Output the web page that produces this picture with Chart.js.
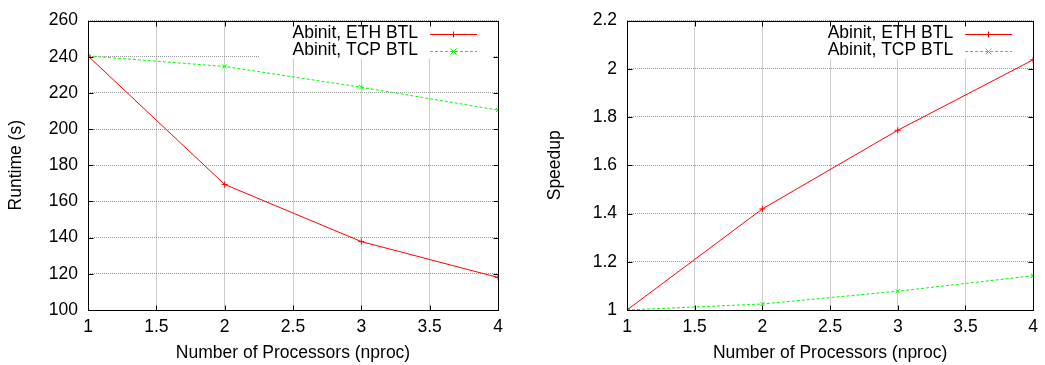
<!DOCTYPE html>
<html>
<head>
<meta charset="utf-8">
<script src="https://cdn.jsdelivr.net/npm/chart.js@4/dist/chart.umd.min.js"></script>
<style>
  html, body { margin: 0; padding: 0; background: #fff; }
  #wrap { position: relative; width: 1045px; height: 365px; }
  .box { position: absolute; top: 0; height: 365px; }
  #b1 { left: 0; width: 520px; }
  #b2 { left: 520px; width: 525px; }
</style>
</head>
<body>
<div id="wrap">
  <div class="box" id="b1"><canvas id="c1" width="520" height="365"></canvas></div>
  <div class="box" id="b2"><canvas id="c2" width="525" height="365"></canvas></div>
</div>
<script>
// ---- data ----
const nproc = [1, 2, 3, 4];
const runtimeETH = [240.4, 169.4, 137.8, 118.0];
const runtimeTCP = [240.4, 234.6, 223.1, 210.5];
const speedupETH = [1.0, 1.419, 1.745, 2.037];
const speedupTCP = [1.0, 1.025, 1.078, 1.142];
const seriesLabels = ['Abinit, ETH BTL', 'Abinit, TCP BTL'];
const seriesColors = ['#ff0000', '#00ff00'];
const xTitle = 'Number of Processors (nproc)';
const yTitleLeft = 'Runtime (s)';
const yTitleRight = 'Speedup';

const FONT = 'Liberation Sans, Arial, sans-serif';
const FS = 17.5;

function fmt(v) { return String(+(+v).toFixed(3)); }

const framePlugin = {
  id: 'gnuFrame',
  afterDatasetsDraw(chart) {
    const ctx = chart.ctx;
    const a = chart.chartArea;
    const L = Math.round(a.left) + 0.5, R = Math.round(a.right) + 0.5;
    const T = Math.round(a.top) + 0.5, B = Math.round(a.bottom) + 0.5;
    ctx.save();
    // legend box
    ctx.fillStyle = '#ffffff';
    ctx.fillRect(a.right - 238, a.top + 1, 234, 37);
    // legend entries
    ctx.font = FS + 'px ' + FONT;
    ctx.textAlign = 'right';
    ctx.textBaseline = 'middle';
    chart.data.datasets.forEach((ds, i) => {
      const y = a.top + 13 + i * 17;
      const col = seriesColors[i];
      ctx.fillStyle = '#000000';
      ctx.fillText(ds.label, a.right - 80, y);
      ctx.strokeStyle = col;
      ctx.lineWidth = 1;
      ctx.setLineDash(i === 1 ? [3, 2] : []);
      ctx.beginPath();
      ctx.moveTo(a.right - 68, Math.round(y) + 0.5);
      ctx.lineTo(a.right - 21, Math.round(y) + 0.5);
      ctx.stroke();
      ctx.setLineDash([]);
      const mx = Math.round(a.right - 45) + 0.5, my = Math.round(y) + 0.5, r = 3;
      ctx.strokeStyle = col;
      ctx.beginPath();
      if (i === 0) {
        ctx.moveTo(mx - r, my); ctx.lineTo(mx + r, my);
        ctx.moveTo(mx, my - r); ctx.lineTo(mx, my + r);
      } else {
        ctx.moveTo(mx - r, my - r); ctx.lineTo(mx + r, my + r);
        ctx.moveTo(mx - r, my + r); ctx.lineTo(mx + r, my - r);
      }
      ctx.stroke();
    });
    // frame
    ctx.strokeStyle = '#000000';
    ctx.lineWidth = 1;
    ctx.strokeRect(L, T, R - L, B - T);
    // inward ticks on all four sides
    const xs = chart.scales.x, ys = chart.scales.y;
    const tl = 5;
    ctx.beginPath();
    xs.ticks.forEach(t => {
      const px = Math.round(xs.getPixelForValue(t.value)) + 0.5;
      ctx.moveTo(px, B); ctx.lineTo(px, B - tl);
      ctx.moveTo(px, T); ctx.lineTo(px, T + tl);
    });
    ys.ticks.forEach(t => {
      const py = Math.round(ys.getPixelForValue(t.value)) + 0.5;
      ctx.moveTo(L, py); ctx.lineTo(L + tl, py);
      ctx.moveTo(R, py); ctx.lineTo(R - tl, py);
    });
    ctx.stroke();
    ctx.restore();
  }
};

function makeChart(id, ethVals, tcpVals, yMin, yMax, yStep, yTitle, yWidth, yTitlePad, padRight) {
  const pts = vals => nproc.map((x, i) => ({ x: x, y: vals[i] }));
  return new Chart(document.getElementById(id), {
    type: 'line',
    data: {
      datasets: [
        {
          label: seriesLabels[0], data: pts(ethVals),
          borderColor: seriesColors[0], backgroundColor: seriesColors[0], borderWidth: 1,
          pointStyle: 'cross', pointRadius: 3, pointBorderWidth: 1,
          pointBorderColor: seriesColors[0], tension: 0, fill: false
        },
        {
          label: seriesLabels[1], data: pts(tcpVals),
          borderColor: seriesColors[1], backgroundColor: seriesColors[1], borderWidth: 1,
          borderDash: [3, 2],
          pointStyle: 'crossRot', pointRadius: 3, pointBorderWidth: 1,
          pointBorderColor: seriesColors[1], tension: 0, fill: false
        }
      ]
    },
    options: {
      responsive: false,
      animation: false,
      devicePixelRatio: 1,
      layout: { padding: { top: 14, right: padRight, left: 0, bottom: 0 } },
      plugins: { legend: { display: false }, tooltip: { enabled: false } },
      scales: {
        x: {
          type: 'linear', min: 1, max: 4,
          afterFit: s => { s.height = 55; },
          ticks: {
            stepSize: 0.5, padding: 7, color: '#000', maxRotation: 0,
            font: { family: FONT, size: FS }, callback: v => fmt(v)
          },
          grid: { color: '#999', lineWidth: 1, drawTicks: false },
          border: { display: false, dash: [1, 1] },
          title: {
            display: true, text: xTitle, color: '#000',
            font: { family: FONT, size: FS }, padding: { top: 0, bottom: 1 }
          }
        },
        y: {
          type: 'linear', min: yMin, max: yMax,
          afterFit: s => { s.width = yWidth; },
          ticks: {
            stepSize: yStep, padding: 10, color: '#000',
            font: { family: FONT, size: FS }, callback: v => fmt(v)
          },
          grid: { color: '#999', lineWidth: 1, drawTicks: false },
          border: { display: false, dash: [1, 1] },
          title: {
            display: true, text: yTitle, color: '#000',
            font: { family: FONT, size: FS }, padding: { top: yTitlePad, bottom: 0 }
          }
        }
      }
    },
    plugins: [framePlugin]
  });
}

makeChart('c1', runtimeETH, runtimeTCP, 100, 260, 20, yTitleLeft, 88, 5.5, 22);
makeChart('c2', speedupETH, speedupTCP, 1, 2.2, 0.2, yTitleRight, 107, 24.5, 10);
</script>
</body>
</html>
